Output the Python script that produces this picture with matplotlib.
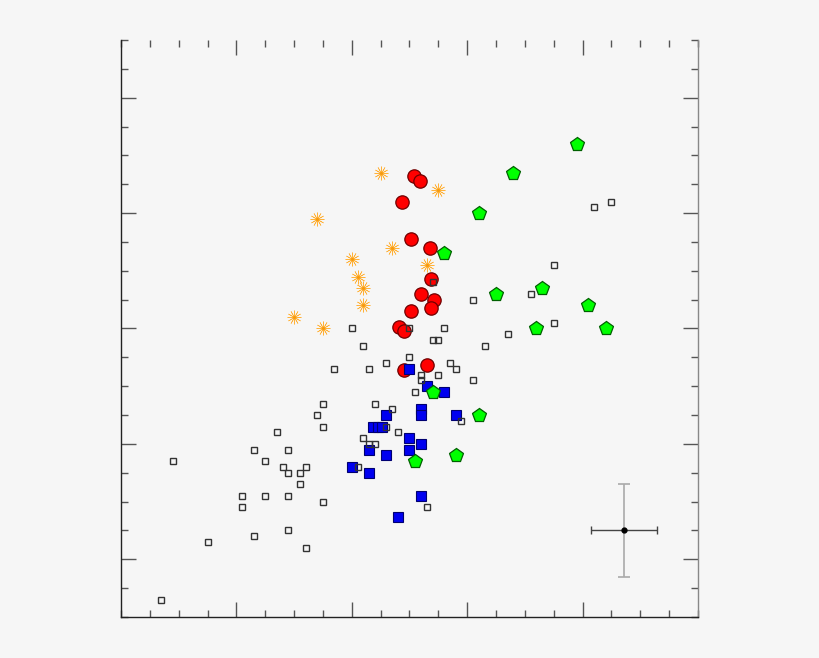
import numpy as np
from matplotlib import pyplot as plt
from matplotlib.ticker import MultipleLocator, FixedLocator

# open squares (comparison sample)
open_x = [1.4, 1.8, 3.0, 4.2, 4.2, 4.6, 4.6, 5.0, 5.0, 5.4, 5.6, 5.8, 5.8, 5.8, 5.8,
          6.2, 6.4, 6.2, 6.4, 6.8, 7.0, 7.0, 7.0, 7.4, 8.0, 8.2, 8.4, 8.4, 8.6, 8.6,
          8.8, 8.8, 9.2, 9.2, 9.4, 9.6, 10.0, 10.0, 10.2, 10.4, 10.4, 10.6, 10.8, 10.8,
          11.0, 11.0, 11.2, 11.4, 11.6, 11.8, 12.2, 12.2, 12.6, 13.4, 14.2, 15.0, 15.0,
          16.4, 17.0]
open_y = [0.6, 5.4, 2.6, 4.2, 3.8, 5.8, 2.8, 5.4, 4.2, 6.4, 5.2, 5.8, 5.0, 4.2, 3.0,
          5.0, 5.2, 4.6, 2.4, 7.0, 7.4, 6.6, 4.0, 8.6, 10.0, 5.2, 9.4, 6.2, 8.6, 6.0,
          6.0, 7.4, 8.8, 6.6, 7.2, 6.4, 9.0, 10.0, 7.8, 8.4, 8.2, 3.8, 11.6, 9.6,
          9.6, 8.4, 10.0, 8.8, 8.6, 6.8, 11.0, 8.2, 9.4, 9.8, 11.2, 12.2, 10.2,
          14.2, 14.4]

# blue filled squares
blue_x = [10.0, 10.6, 11.2, 10.4, 10.4, 9.2, 11.6, 8.75, 8.9, 9.05, 10.0, 10.4,
          8.6, 10.0, 9.2, 8.0, 8.6, 10.4, 9.6]
blue_y = [8.6, 8.0, 7.8, 7.2, 7.0, 7.0, 7.0, 6.6, 6.6, 6.6, 6.2, 6.0,
          5.8, 5.8, 5.6, 5.2, 5.0, 4.2, 3.45]

# red circles
red_x = [10.15, 10.35, 9.75, 10.05, 10.7, 10.75, 10.4, 10.85, 10.75, 10.05, 9.65, 9.8, 10.6, 9.8]
red_y = [15.3, 15.1, 14.4, 13.1, 12.8, 11.7, 11.2, 11.0, 10.7, 10.6, 10.05, 9.9, 8.75, 8.55]

# orange stars
star_x = [9.0, 11.0, 6.8, 9.4, 8.0, 10.6, 8.2, 8.4, 8.4, 6.0, 7.0]
star_y = [15.4, 14.8, 13.8, 12.8, 12.4, 12.2, 11.8, 11.4, 10.8, 10.4, 10.0]

# green pentagons
green_x = [15.8, 13.6, 12.4, 11.2, 14.6, 13.0, 16.2, 14.4, 16.8, 10.8, 12.4, 11.6, 10.2]
green_y = [16.4, 15.4, 14.0, 12.6, 11.4, 11.2, 10.8, 10.0, 10.0, 7.8, 7.0, 5.6, 5.4]

# typical error bar
err_x, err_y = 17.43, 3.0
err_dx, err_dy = 1.15, 1.62

bg = '#f6f6f6'
fig = plt.figure(figsize=(8.2, 6.58), dpi=100, facecolor=bg)
ax = fig.add_axes([121/820, 1 - 617/658, (698 - 121)/820, (617 - 40)/658])
ax.set_facecolor(bg)

ax.plot(red_x, red_y, 'o', ms=9.6, mfc='#ff0000', mec='#700000', mew=0.9, zorder=2)
ax.plot(blue_x, blue_y, 's', ms=7.0, mfc='#0000f0', mec='#000070', mew=0.8, zorder=3)
ax.plot(green_x, green_y, 'p', ms=10.5, mfc='#00ff00', mec='#006000', mew=0.9, zorder=4)
ax.plot(open_x, open_y, 's', ms=4.2, mfc='none', mec='#333333', mew=1.0, zorder=5)
ax.plot(star_x, star_y, marker=(12, 2, 0), ls='none', ms=10, mec='#ffb23a', mew=0.45, zorder=6)
ax.plot(star_x, star_y, 'o', ms=2.2, mfc='#f59a10', mec='none', zorder=6)

# error bar: vertical in light grey, horizontal in dark grey
ax.errorbar(err_x, err_y, yerr=err_dy, fmt='none', ecolor='#aaaaaa', elinewidth=1.2,
            capsize=4, capthick=1.2, zorder=7)
ax.errorbar(err_x, err_y, xerr=err_dx, fmt='none', ecolor='#444444', elinewidth=1.0,
            capsize=3, capthick=1.0, zorder=8)
ax.plot(err_x, err_y, 'o', ms=3.5, color='black', zorder=9)

ax.set_xlim(0, 20)
ax.set_ylim(0, 20)

ax.xaxis.set_major_locator(FixedLocator([4, 8, 12, 16]))
ax.xaxis.set_minor_locator(MultipleLocator(1))
ax.yaxis.set_major_locator(FixedLocator([2, 6, 10, 14, 18]))
ax.yaxis.set_minor_locator(MultipleLocator(1))
ax.tick_params(which='both', direction='in', top=True, right=True,
               labelbottom=False, labelleft=False, color='#555555', width=1.0)
ax.tick_params(which='major', length=10.5)
ax.tick_params(which='minor', length=5)

ax.spines['top'].set_visible(False)
ax.spines['left'].set_color('#222222')
ax.spines['bottom'].set_color('#222222')
ax.spines['right'].set_color('#888888')
for s in ['left', 'bottom', 'right']:
    ax.spines[s].set_linewidth(1.0)

fig.savefig('out.png', dpi=100, facecolor=bg)
